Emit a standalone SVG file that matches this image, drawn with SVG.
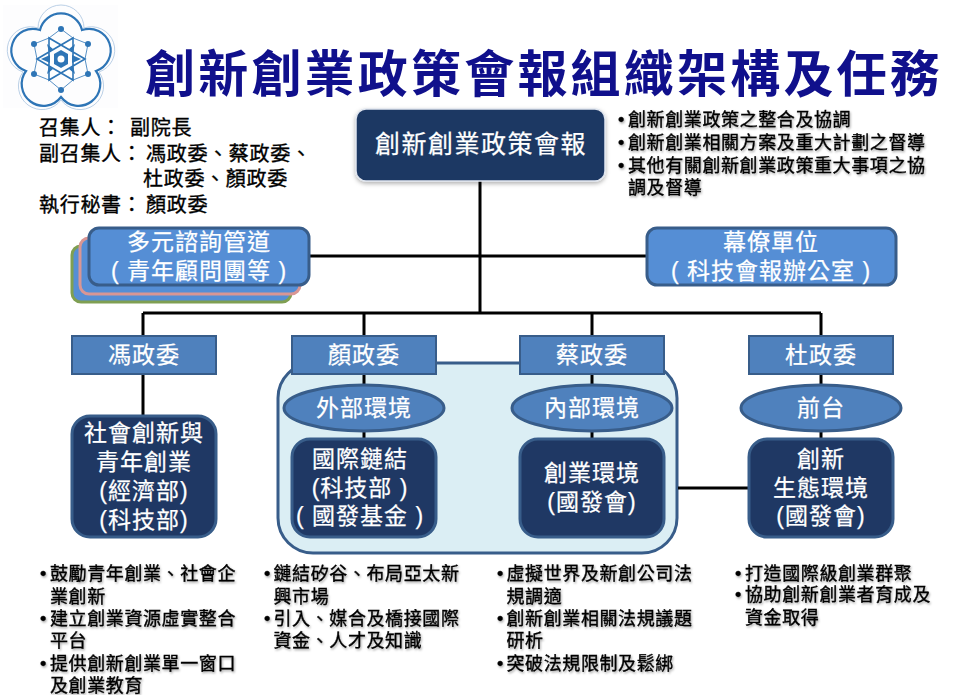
<svg xmlns="http://www.w3.org/2000/svg" width="959" height="695" viewBox="0 0 959 695">
<defs>
<filter id="ts" x="-5%" y="-20%" width="110%" height="150%"><feDropShadow dx="1" dy="1.5" stdDeviation="1" flood-color="#000" flood-opacity=".35"/></filter>
<filter id="bs" x="-5%" y="-10%" width="110%" height="125%"><feDropShadow dx="0" dy="2" stdDeviation="2" flood-color="#000" flood-opacity=".3"/></filter>
</defs>
<style>
text{font-family:"Liberation Sans","Noto Sans CJK TC",sans-serif}
.w{fill:#fff;stroke:#fff;stroke-width:.25px;font-size:23px;text-anchor:middle;letter-spacing:1px}
.b{fill:#000;stroke:#000;stroke-width:.35px;font-size:18px;letter-spacing:.6px}
.g{fill:#000;stroke:#000;stroke-width:.35px;font-size:20px;letter-spacing:.7px}
.head{fill:#4f81bd;stroke:#385d8a;stroke-width:2}
.ell{fill:#4f81bd;stroke:#385d8a;stroke-width:3}
.dark{fill:#1f3864;stroke:#385d8a;stroke-width:3}
.light{fill:#558ed5;stroke:#385d8a;stroke-width:3}
.c{fill:none;stroke:#000;stroke-width:3}
.sh{filter:url(#ts)}
</style>
<g id="logo" fill="none" stroke="#2e75b6">
<rect x="3" y="5" width="115" height="103" fill="#fdfdfe" stroke="none"/>
<path d="M82 30A21.6 21.6 0 0 1 96 71A21.6 21.6 0 0 1 61 97A21.6 21.6 0 0 1 26 71A21.6 21.6 0 0 1 40 30A21.6 21.6 0 0 1 82 30Z" stroke-width="2.2"/>
<path d="M84 28A23 23 0 0 1 99 72A23 23 0 0 1 61 100A23 23 0 0 1 23 72A23 23 0 0 1 38 28A23 23 0 0 1 84 28Z" stroke-width=".8" stroke="#a9c4e0"/>
<path d="M61 29L49 38M61 29L73 38M34 44L49 38M34 44L37 59M88 44L73 38M88 44L85 59M34 74L37 59M34 74L49 80M88 74L85 59M88 74L73 80M61 90L49 80M61 90L73 80" stroke-width=".8"/>
<path d="M85 59L49 38V80ZM37 59L73 38V80Z" stroke-width="1.6" fill="#fff"/>
<path d="M61 50L68 54V64L61 68L54 64V54Z" fill="#2e75b6" stroke="none"/>
<circle cx="61" cy="59" r="3.5" fill="#fff" stroke="none"/>
<g fill="#2e75b6" stroke="none"><circle cx="61" cy="29" r="3"/><circle cx="34" cy="44" r="3"/><circle cx="88" cy="44" r="3"/><circle cx="34" cy="74" r="3"/><circle cx="88" cy="74" r="3"/><circle cx="61" cy="90" r="3"/><path d="M47 44L53 49L49 52ZM75 44L69 49L73 52ZM41 59L50 55V63ZM81 59L72 55V63ZM47 74L53 69L49 66ZM75 74L69 69L73 66Z"/></g>
</g>
<text id="title" x="145" y="92" font-size="50" font-weight="700" fill="#10108c" letter-spacing="3.2">創新創業政策會報組織架構及任務</text>
<g id="panel"><rect x="278" y="363" width="399" height="190" rx="35" fill="#dbeef4" stroke="#385d8a" stroke-width="3"/></g>
<g id="connectors">
<path class="c" d="M480 178V313M308 256H647M143 313H821M143 313V336M364 313V336M592 313V336M821 313V336M143 373V417M364 373V439M592 373V439M821 373V439M678 488H749"/>
</g>
<g id="convener"><text class="g" x="39" y="135">召集人：</text><text class="g" x="130" y="135">副院長</text><text class="g" x="39" y="161">副召集人：</text><text class="g" x="146" y="161">馮政委、蔡政委、</text><text class="g" x="143" y="186">杜政委、顏政委</text><text class="g" x="39" y="212">執行秘書：</text><text class="g" x="146" y="212">顏政委</text></g>
<g id="council"><rect x="356" y="109" width="249" height="72" rx="10" fill="#1f3864" stroke="#dfe5ee" stroke-width="1.5" filter="url(#bs)"/><text class="w" x="481" y="153" style="font-size:25px;letter-spacing:1.5px">創新創業政策會報</text></g>
<g id="council-tasks" class="sh"><text class="b" y="126"><tspan x="618">•</tspan><tspan x="628">創新創業政策之整合及協調</tspan></text><text class="b" y="149"><tspan x="618">•</tspan><tspan x="628">創新創業相關方案及重大計劃之督導</tspan></text><text class="b" y="172"><tspan x="618">•</tspan><tspan x="628">其他有關創新創業政策重大事項之協</tspan></text><text class="b" x="628" y="194">調及督導</text></g>
<g id="advisory"><rect x="72" y="246" width="219" height="56" rx="9" fill="#558ed5" stroke="#7f9f52" stroke-width="3"/><rect x="80" y="238" width="220" height="56" rx="9" fill="#558ed5" stroke="#d99694" stroke-width="3"/><rect class="light" x="89" y="228" width="220" height="57" rx="10"/><text class="w" x="199" y="250">多元諮詢管道</text><text class="w" x="199" y="279">( 青年顧問團等 )</text></g>
<g id="staff"><rect class="light" x="647" y="228" width="249" height="57" rx="10"/><text class="w" x="771" y="250">幕僚單位</text><text class="w" x="771" y="279">( 科技會報辦公室 )</text></g>
<g id="feng"><rect class="head" x="72" y="336" width="144" height="38"/><text class="w" x="144" y="363">馮政委</text></g>
<g id="yen"><rect class="head" x="292" y="336" width="144" height="38"/><text class="w" x="364" y="363">顏政委</text></g>
<g id="tsai"><rect class="head" x="520" y="336" width="144" height="38"/><text class="w" x="592" y="363">蔡政委</text></g>
<g id="tu"><rect class="head" x="749" y="336" width="144" height="38"/><text class="w" x="821" y="363">杜政委</text></g>
<g id="external"><ellipse class="ell" cx="364" cy="408" rx="80" ry="23"/><text class="w" x="364" y="416">外部環境</text></g>
<g id="internal"><ellipse class="ell" cx="592" cy="408" rx="80" ry="23"/><text class="w" x="592" y="416">內部環境</text></g>
<g id="front"><ellipse class="ell" cx="821" cy="408" rx="80" ry="23"/><text class="w" x="821" y="416">前台</text></g>
<g id="social"><rect class="dark" x="72" y="416" width="144" height="121" rx="18"/><text class="w" x="144" y="441">社會創新與</text><text class="w" x="144" y="470">青年創業</text><text class="w" x="144" y="499">(經濟部)</text><text class="w" x="144" y="528">(科技部)</text></g>
<g id="intl"><rect class="dark" x="292" y="439" width="144" height="98" rx="18"/><text class="w" x="360" y="467">國際鏈結</text><text class="w" x="360" y="496">(科技部 )</text><text class="w" x="360" y="524">( 國發基金 )</text></g>
<g id="startup"><rect class="dark" x="520" y="439" width="144" height="98" rx="18"/><text class="w" x="592" y="481">創業環境</text><text class="w" x="592" y="510">(國發會)</text></g>
<g id="eco"><rect class="dark" x="749" y="439" width="144" height="98" rx="18"/><text class="w" x="821" y="467">創新</text><text class="w" x="821" y="496">生態環境</text><text class="w" x="821" y="524">(國發會)</text></g>
<g id="tasks-1" class="sh"><text class="b" y="580"><tspan x="40">•</tspan><tspan x="50">鼓勵青年創業、社會企</tspan></text><text class="b" x="50" y="603">業創新</text><text class="b" y="625"><tspan x="40">•</tspan><tspan x="50">建立創業資源虛實整合</tspan></text><text class="b" x="50" y="647">平台</text><text class="b" y="670"><tspan x="40">•</tspan><tspan x="50">提供創新創業單一窗口</tspan></text><text class="b" x="50" y="692">及創業教育</text></g>
<g id="tasks-2" class="sh"><text class="b" y="580"><tspan x="264">•</tspan><tspan x="273.5">鏈結矽谷、布局亞太新</tspan></text><text class="b" x="273.5" y="603">興市場</text><text class="b" y="625"><tspan x="264">•</tspan><tspan x="273.5">引入、媒合及橋接國際</tspan></text><text class="b" x="273.5" y="647">資金、人才及知識</text></g>
<g id="tasks-3" class="sh"><text class="b" y="580"><tspan x="497">•</tspan><tspan x="506.5">虛擬世界及新創公司法</tspan></text><text class="b" x="506.5" y="603">規調適</text><text class="b" y="625"><tspan x="497">•</tspan><tspan x="506.5">創新創業相關法規議題</tspan></text><text class="b" x="506.5" y="647">研析</text><text class="b" y="670"><tspan x="497">•</tspan><tspan x="506.5">突破法規限制及鬆綁</tspan></text></g>
<g id="tasks-4" class="sh"><text class="b" y="580"><tspan x="735">•</tspan><tspan x="745">打造國際級創業群聚</tspan></text><text class="b" y="601"><tspan x="735">•</tspan><tspan x="745">協助創新創業者育成及</tspan></text><text class="b" x="745" y="624">資金取得</text></g>
</svg>
